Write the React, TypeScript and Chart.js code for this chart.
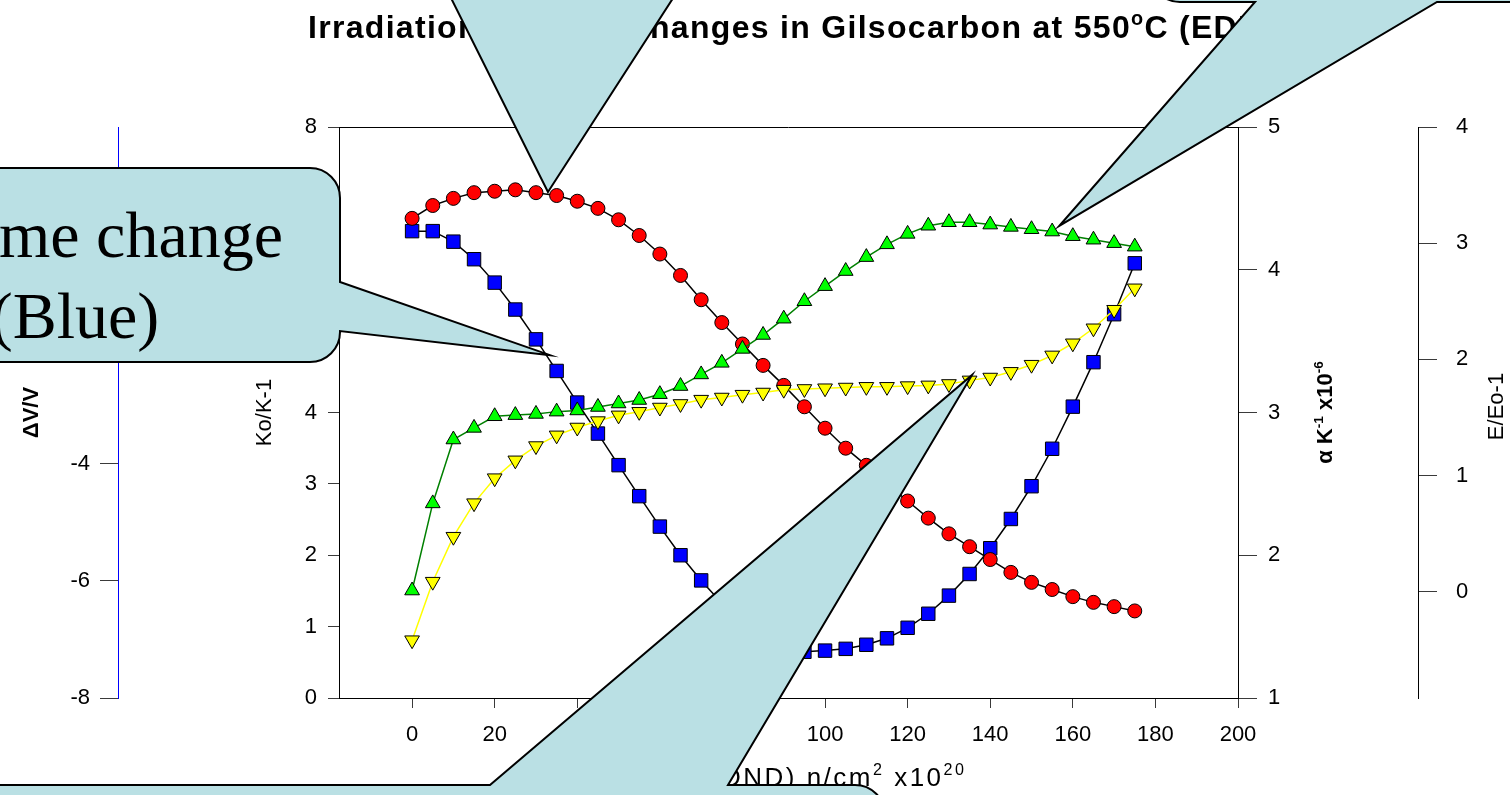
import { useEffect, useRef } from "react";
import { Chart, registerables } from "chart.js";

Chart.register(...registerables);

// Dose (EDND) in units of 10^20 n/cm^2
const doses = [
  0, 5, 10, 15, 20, 25, 30, 35, 40, 45, 50, 55, 60, 65, 70, 75, 80, 85,
  90, 95, 100, 105, 110, 115, 120, 125, 130, 135, 140, 145, 150, 155, 160, 165, 170, 175,
];

// Volume change ΔV/V (%) — blue squares
const volumeChange = [
  -0.02, -0.02, -0.2, -0.5, -0.9, -1.36, -1.87, -2.41, -2.95, -3.48, -4.02, -4.55,
  -5.07, -5.56, -5.99, -6.38, -6.68, -6.92, -7.09, -7.21, -7.19, -7.16, -7.09, -6.98,
  -6.8, -6.56, -6.25, -5.88, -5.44, -4.94, -4.38, -3.74, -3.02, -2.26, -1.44, -0.57,
];

// Thermal conductivity Ko/K-1 — yellow inverted triangles
const conductivityRatio = [
  0.81, 1.63, 2.26, 2.73, 3.08, 3.33, 3.53, 3.68, 3.79, 3.88, 3.96, 4.01,
  4.07, 4.12, 4.18, 4.21, 4.25, 4.28, 4.32, 4.33, 4.34, 4.35, 4.36, 4.36,
  4.37, 4.38, 4.4, 4.45, 4.49, 4.57, 4.67, 4.8, 4.97, 5.18, 5.44, 5.74,
];

// Coefficient of thermal expansion α (K^-1 x10^-6) — red circles
const expansionCoeff = [
  4.36, 4.45, 4.5, 4.54, 4.55, 4.56, 4.54, 4.52, 4.48, 4.43, 4.35, 4.24,
  4.11, 3.96, 3.79, 3.63, 3.48, 3.33, 3.19, 3.04, 2.89, 2.75, 2.63, 2.5,
  2.38, 2.26, 2.15, 2.06, 1.97, 1.88, 1.81, 1.76, 1.71, 1.67, 1.64, 1.61,
];

// Young's modulus E/Eo-1 — green triangles
const modulusRatio = [
  0.01, 0.76, 1.31, 1.41, 1.51, 1.52, 1.53, 1.55, 1.56, 1.59, 1.62, 1.65,
  1.7, 1.77, 1.87, 1.97, 2.09, 2.21, 2.35, 2.5, 2.63, 2.76, 2.88, 2.99,
  3.08, 3.15, 3.18, 3.18, 3.16, 3.14, 3.12, 3.1, 3.06, 3.03, 3.0, 2.97,
];

const doseTicks = [0, 20, 40, 60, 80, 100, 120, 140, 160, 180, 200];
const volumeTicks = [-8, -6, -4, -2, 0];
const conductivityTicks = [0, 1, 2, 3, 4, 5, 6, 7, 8];
const expansionTicks = [1, 2, 3, 4, 5];
const modulusTicks = [0, 1, 2, 3, 4];

const SANS = '"Liberation Sans", Arial, Helvetica, sans-serif';
const SERIF = '"Liberation Serif", "Times New Roman", serif';

type Seg = { t: string; sup?: boolean };
type RichOpts = {
  size: number;
  bold?: boolean;
  align?: "left" | "center" | "right";
  rotate?: number;
  spacing?: number;
  family?: string;
};

// Draws a run of text segments (with optional superscripts) glyph by glyph.
function drawRich(ctx: CanvasRenderingContext2D, segs: Seg[], x: number, y: number, o: RichOpts) {
  const family = o.family || SANS;
  const spacing = o.spacing || 0;
  const pieces: { ch: string; font: string; w: number; dy: number }[] = [];
  let total = 0;
  for (const s of segs) {
    const fs = s.sup ? o.size * 0.62 : o.size;
    const font = `${o.bold ? "bold " : ""}${fs}px ${family}`;
    ctx.font = font;
    for (const ch of s.t) {
      const w = ctx.measureText(ch).width;
      pieces.push({ ch, font, w, dy: s.sup ? -o.size * 0.42 : 0 });
      total += w + spacing;
    }
  }
  total -= spacing;
  ctx.save();
  ctx.translate(x, y);
  if (o.rotate) ctx.rotate(o.rotate);
  ctx.textAlign = "left";
  ctx.textBaseline = "alphabetic";
  ctx.fillStyle = "#000";
  let cx = o.align === "center" ? -total / 2 : o.align === "right" ? -total : 0;
  for (const p of pieces) {
    ctx.font = p.font;
    ctx.fillText(p.ch, cx, p.dy);
    cx += p.w + spacing;
  }
  ctx.restore();
}

type Balloon = {
  l: number; t: number; r: number; b: number; rad: number;
  side: "top" | "right" | "bottom";
  p0: number; p1: number;
  tip: { scale: string; x: number; y: number };
  lines?: string[];
  textX?: number;
  baselines?: number[];
  fontSize?: number;
};

// Speech-balloon callouts; the pointer tips are anchored in data space
const callouts: Balloon[] = [
  {
    l: 300, t: -260, r: 860, b: -8, rad: 30, side: "bottom", p0: 448, p1: 677,
    tip: { scale: "yA", x: 32.9, y: 4.545 },
  },
  {
    l: 1150, t: -200, r: 1800, b: 2, rad: 30, side: "bottom", p0: 1255, p1: 1437,
    tip: { scale: "yE", x: 156.7, y: 3.148 },
  },
  {
    l: -190, t: 168, r: 340, b: 362, rad: 30, side: "right", p0: 282, p1: 331,
    tip: { scale: "yV", x: 33.4, y: -2.14 },
    lines: ["Volume change", "(Blue)"], textX: 75, baselines: [257, 338], fontSize: 66,
  },
  {
    l: -100, t: 785, r: 885, b: 980, rad: 30, side: "top", p0: 490, p1: 728,
    tip: { scale: "yK", x: 135.6, y: 4.525 },
  },
];

function balloonPath(ctx: CanvasRenderingContext2D, c: Balloon, tx: number, ty: number) {
  const { l, t, r, b, rad } = c;
  ctx.beginPath();
  ctx.moveTo(l + rad, t);
  if (c.side === "top") {
    ctx.lineTo(c.p0, t);
    ctx.lineTo(tx, ty);
    ctx.lineTo(c.p1, t);
  }
  ctx.lineTo(r - rad, t);
  ctx.arcTo(r, t, r, t + rad, rad);
  if (c.side === "right") {
    ctx.lineTo(r, c.p0);
    ctx.lineTo(tx, ty);
    ctx.lineTo(r, c.p1);
  }
  ctx.lineTo(r, b - rad);
  ctx.arcTo(r, b, r - rad, b, rad);
  if (c.side === "bottom") {
    ctx.lineTo(c.p1, b);
    ctx.lineTo(tx, ty);
    ctx.lineTo(c.p0, b);
  }
  ctx.lineTo(l + rad, b);
  ctx.arcTo(l, b, l, b - rad, rad);
  ctx.lineTo(l, t + rad);
  ctx.arcTo(l, t, l + rad, t, rad);
  ctx.closePath();
}

const overlayPlugin = {
  id: "overlay",
  afterDraw(chart: any) {
    const { ctx, chartArea, scales } = chart;
    ctx.save();

    // top frame line
    ctx.strokeStyle = "#000";
    ctx.lineWidth = 1;
    ctx.beginPath();
    ctx.moveTo(chartArea.left, Math.round(chartArea.top) + 0.5);
    ctx.lineTo(chartArea.right, Math.round(chartArea.top) + 0.5);
    ctx.stroke();

    const midY = (chartArea.top + chartArea.bottom) / 2;
    const up = -Math.PI / 2;

    // chart title
    drawRich(ctx, [
      { t: "Irradiation induced changes in Gilsocarbon at 550" },
      { t: "o", sup: true },
      { t: "C (EDND)" },
    ], 308, 38, { size: 32, bold: true, spacing: 1.3 });

    // axis titles
    drawRich(ctx, [{ t: "ΔV/V" }], 38, midY, { size: 22, bold: true, align: "center", rotate: up });
    drawRich(ctx, [{ t: "Ko/K-1" }], 271, midY, { size: 22, align: "center", rotate: up });
    drawRich(ctx, [
      { t: "α K" }, { t: "-1", sup: true }, { t: " x10" }, { t: "-6", sup: true },
    ], 1332, midY, { size: 22, bold: true, align: "center", rotate: up });
    drawRich(ctx, [{ t: "E/Eo-1" }], 1503, midY - 6, { size: 22, align: "center", rotate: up });
    drawRich(ctx, [
      { t: "Dose (EDND) n/cm" }, { t: "2", sup: true }, { t: " x10" }, { t: "20", sup: true },
    ], 964, 786, { size: 26, spacing: 2.5, align: "right" });

    // callouts
    for (const c of callouts) {
      const tx = scales.x.getPixelForValue(c.tip.x);
      const ty = scales[c.tip.scale].getPixelForValue(c.tip.y);
      balloonPath(ctx, c, tx, ty);
      ctx.fillStyle = "#bae0e4";
      ctx.fill();
      ctx.strokeStyle = "#000";
      ctx.lineWidth = 2;
      ctx.lineJoin = "miter";
      ctx.stroke();
      if (c.lines && c.baselines && c.textX !== undefined) {
        c.lines.forEach((line, i) => {
          drawRich(ctx, [{ t: line }], c.textX as number, (c.baselines as number[])[i], {
            size: c.fontSize || 60, align: "center", family: SERIF,
          });
        });
      }
    }
    ctx.restore();
  },
};

const tickFont = { family: SANS, size: 22 };

function axisCommon(tickLength: number, padding: number, borderColor = "#000") {
  return {
    grid: { drawOnChartArea: false, drawTicks: true, tickLength, color: "#3a3a3a", lineWidth: 1 },
    border: { display: true, color: borderColor, width: 1 },
    ticks: { font: tickFont, color: "#000", padding },
    title: { display: false },
  };
}

export default function App() {
  const canvasRef = useRef<HTMLCanvasElement>(null);

  useEffect(() => {
    const pts = (vals: number[]) => doses.map((d, i) => ({ x: d, y: vals[i] }));
    const chart = new Chart(canvasRef.current as HTMLCanvasElement, {
      type: "line",
      data: {
        datasets: [
          {
            label: "Ko/K-1",
            data: pts(conductivityRatio),
            yAxisID: "yK",
            order: 0,
            borderColor: "#ffff00",
            borderWidth: 1.5,
            pointStyle: "triangle",
            rotation: 180,
            pointRadius: 8.5,
            pointBackgroundColor: "#ffff00",
            pointBorderColor: "#000",
            pointBorderWidth: 1,
          },
          {
            label: "E/Eo-1",
            data: pts(modulusRatio),
            yAxisID: "yE",
            order: 1,
            borderColor: "#008000",
            borderWidth: 1.5,
            pointStyle: "triangle",
            pointRadius: 8.5,
            pointBackgroundColor: "#00ff00",
            pointBorderColor: "#000",
            pointBorderWidth: 1,
          },
          {
            label: "alpha",
            data: pts(expansionCoeff),
            yAxisID: "yA",
            order: 2,
            borderColor: "#000",
            borderWidth: 1.5,
            pointStyle: "circle",
            pointRadius: 7,
            pointBackgroundColor: "#ff0000",
            pointBorderColor: "#000",
            pointBorderWidth: 1,
          },
          {
            label: "ΔV/V",
            data: pts(volumeChange),
            yAxisID: "yV",
            order: 3,
            borderColor: "#000",
            borderWidth: 1.5,
            pointStyle: "rect",
            pointRadius: 9.5,
            pointBackgroundColor: "#0000ff",
            pointBorderColor: "#000",
            pointBorderWidth: 1,
          },
        ],
      },
      options: {
        responsive: true,
        maintainAspectRatio: false,
        animation: false,
        events: [],
        layout: { padding: { top: 127, left: 0, right: 0, bottom: 0 } },
        elements: { line: { tension: 0 } },
        plugins: {
          legend: { display: false },
          tooltip: { enabled: false },
          title: { display: false },
        },
        scales: {
          x: {
            type: "linear",
            position: "bottom",
            min: -17.7,
            max: 200,
            afterBuildTicks: (s: any) => { s.ticks = doseTicks.map((v) => ({ value: v })); },
            afterFit: (s: any) => { s.height = 97; },
            ...axisCommon(10, 14),
            ticks: { font: tickFont, color: "#000", padding: 14, maxRotation: 0, autoSkip: false },
          },
          yV: {
            type: "linear",
            position: "left",
            weight: 2,
            min: -8,
            max: 1.76,
            afterBuildTicks: (s: any) => { s.ticks = volumeTicks.map((v) => ({ value: v })); },
            afterFit: (s: any) => { s.width = 118; },
            ...axisCommon(18, 10, "#0000ff"),
          },
          yK: {
            type: "linear",
            position: "left",
            weight: 1,
            min: 0,
            max: 8,
            afterBuildTicks: (s: any) => { s.ticks = conductivityTicks.map((v) => ({ value: v })); },
            afterFit: (s: any) => { s.width = 221; },
            ...axisCommon(11, 11),
          },
          yA: {
            type: "linear",
            position: "right",
            weight: 1,
            min: 1,
            max: 5,
            afterBuildTicks: (s: any) => { s.ticks = expansionTicks.map((v) => ({ value: v })); },
            afterFit: (s: any) => { s.width = 180; },
            ...axisCommon(19, 11),
          },
          yE: {
            type: "linear",
            position: "right",
            weight: 2,
            min: -0.915,
            max: 4,
            afterBuildTicks: (s: any) => { s.ticks = modulusTicks.map((v) => ({ value: v })); },
            afterFit: (s: any) => { s.width = 92; },
            ...axisCommon(19, 19),
          },
        },
      } as any,
      plugins: [overlayPlugin],
    });
    return () => chart.destroy();
  }, []);

  return (
    <div style={{ position: "absolute", left: 0, top: 0, width: 1510, height: 795, background: "#fff" }}>
      <canvas ref={canvasRef} />
    </div>
  );
}
